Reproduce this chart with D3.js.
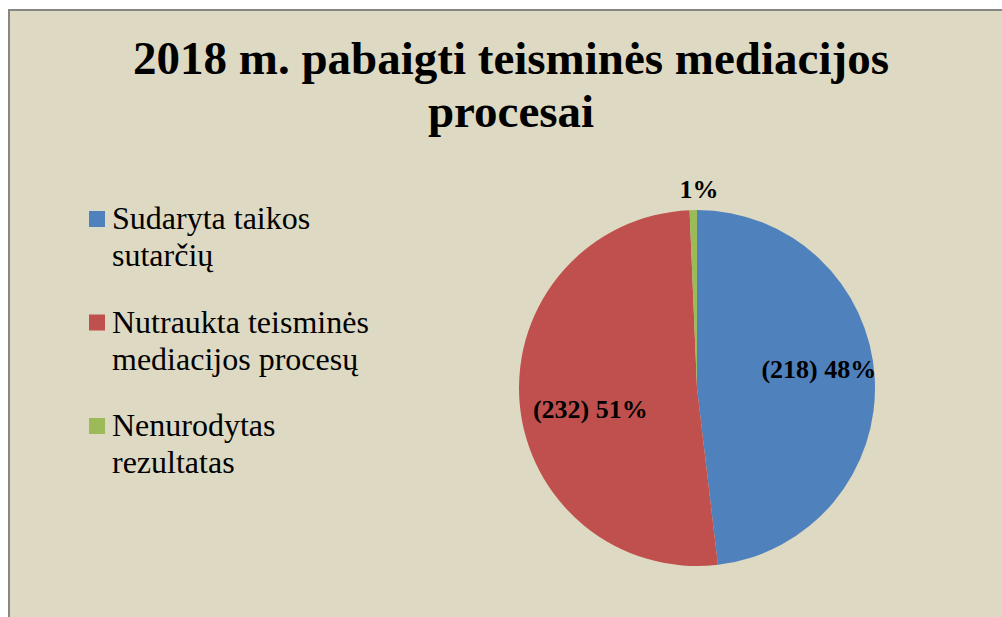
<!DOCTYPE html>
<html><head><meta charset="utf-8">
<script src="https://cdn.jsdelivr.net/npm/d3@7/dist/d3.min.js"></script>
<style>html,body{margin:0;padding:0;background:#fff;}svg{display:block;}</style>
</head><body>
<svg id="c" width="1002" height="617"></svg>
<script>
const titleLines = ["2018 m. pabaigti teisminės mediacijos", "procesai"];
const categories = ["Sudaryta taikos sutarčių", "Nutraukta teisminės mediacijos procesų", "Nenurodytas rezultatas"];
const legendLines = [["Sudaryta taikos", "sutarčių"], ["Nutraukta teisminės", "mediacijos procesų"], ["Nenurodytas", "rezultatas"]];
const values = [218, 232, 3];
const labels = ["(218) 48%", "(232) 51%", "1%"];
const colors = ["#4F81BD", "#C0504D", "#9BBB59"];

const svg = d3.select("#c");
svg.append("rect").attr("x", 9).attr("y", 10).attr("width", 1000).attr("height", 620)
  .attr("fill", "#DDD9C3").attr("stroke", "#868686").attr("stroke-width", 2);

const tt = svg.append("g").attr("font-family", "'Liberation Serif', 'Times New Roman', serif")
  .attr("font-weight", "bold").attr("font-size", 47).attr("fill", "#000").attr("text-anchor", "middle");
tt.append("text").attr("x", 511).attr("y", 74).text(titleLines[0]);
tt.append("text").attr("x", 511).attr("y", 127).text(titleLines[1]);

// legend
const lg = svg.append("g").attr("font-family", "'Liberation Serif', 'Times New Roman', serif")
  .attr("font-size", 32).attr("fill", "#000");
const legendY = d3.scalePoint().domain(categories).range([211, 418]);
categories.forEach((c, i) => {
  const y = legendY(c);
  lg.append("rect").attr("x", 89).attr("y", y).attr("width", 16).attr("height", 16).attr("fill", colors[i]);
  legendLines[i].forEach((ln, j) => {
    lg.append("text").attr("x", 112).attr("y", y + 18 + j * 37).text(ln);
  });
});

// pie
const cx = 697, cy = 388, R = 178;
const pie = d3.pie().sort(null).value(d => d)(values);
const arc = d3.arc().innerRadius(0).outerRadius(R);
const pg = svg.append("g").attr("transform", `translate(${cx},${cy})`);
pg.selectAll("path").data(pie).join("path").attr("d", arc).attr("fill", (d, i) => colors[i]);

const labelArc = d3.arc().innerRadius(R * 0.68).outerRadius(R * 0.68);
const outerArc = d3.arc().innerRadius(R + 13).outerRadius(R + 13);
const labelNudge = [[1, -12], [14, 11], [6, -8]];
const lgp = pg.append("g").attr("font-family", "'Liberation Serif', 'Times New Roman', serif")
  .attr("font-weight", "bold").attr("font-size", 26).attr("fill", "#000").attr("text-anchor", "middle");
pie.forEach((d, i) => {
  const p = (i === 2 ? outerArc : labelArc).centroid(d);
  lgp.append("text").attr("x", p[0] + labelNudge[i][0]).attr("y", p[1] + labelNudge[i][1])
    .attr("dy", "0.35em").text(labels[i]);
});
</script>
</body></html>
